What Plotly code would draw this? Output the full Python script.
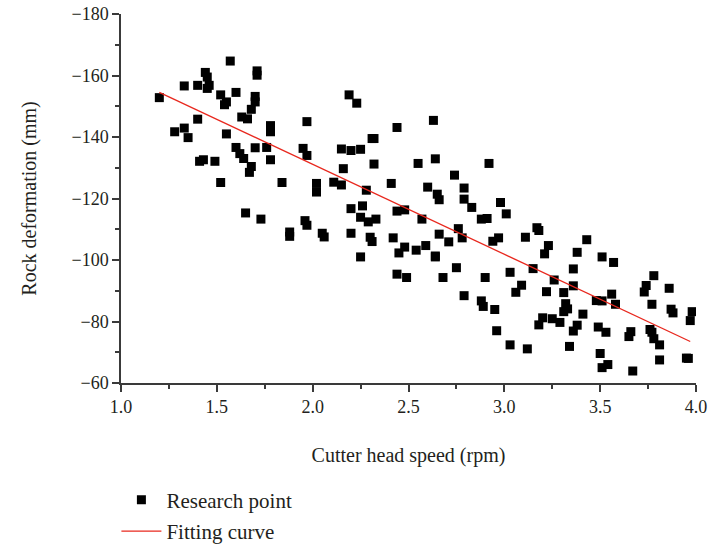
import plotly.graph_objects as go

# Cutter head speed (rpm) and measured rock deformation (mm)
speed = [
    1.20, 1.28, 1.33, 1.33, 1.35, 1.40, 1.40, 1.41, 1.43, 1.44, 1.45, 1.45, 1.46, 1.49,
    1.52, 1.52, 1.54, 1.55, 1.55, 1.57, 1.60, 1.60, 1.62, 1.63, 1.64, 1.65, 1.66, 1.67,
    1.68, 1.68, 1.70, 1.70, 1.70, 1.71, 1.71, 1.73, 1.76, 1.78, 1.78, 1.78, 1.84, 1.88,
    1.88, 1.95, 1.96, 1.97, 1.97, 1.97, 2.02, 2.02, 2.05, 2.06, 2.11, 2.15, 2.15, 2.16,
    2.19, 2.20, 2.20, 2.20, 2.23, 2.25, 2.25, 2.25, 2.26, 2.28, 2.29, 2.30, 2.31, 2.31,
    2.32, 2.32, 2.33, 2.41, 2.42, 2.44, 2.44, 2.44, 2.45, 2.48, 2.48, 2.49, 2.54, 2.55,
    2.57, 2.59, 2.60, 2.63, 2.64, 2.64, 2.64, 2.65, 2.66, 2.66, 2.68, 2.71, 2.74, 2.75,
    2.76, 2.78, 2.79, 2.79, 2.79, 2.83, 2.88, 2.88, 2.89, 2.90, 2.91, 2.92, 2.94, 2.95,
    2.96, 2.97, 2.98, 3.01, 3.03, 3.03, 3.06, 3.09, 3.11, 3.12, 3.15, 3.17, 3.18, 3.18,
    3.20, 3.21, 3.22, 3.23, 3.25, 3.26, 3.29, 3.31, 3.31, 3.32, 3.33, 3.34, 3.36, 3.36,
    3.36, 3.38, 3.38, 3.41, 3.43, 3.48, 3.49, 3.50, 3.51, 3.51, 3.51, 3.53, 3.54, 3.56,
    3.57, 3.58, 3.65, 3.66, 3.67, 3.73, 3.74, 3.76, 3.77, 3.77, 3.78, 3.78, 3.81, 3.81,
    3.86, 3.87, 3.88, 3.95, 3.96, 3.97, 3.98,
]
deformation = [
    -152.8, -141.7, -156.6, -142.9, -139.8, -156.8, -145.8, -132.1, -132.6, -161.0, -159.5, -155.8, -156.8, -132.1,
    -153.7, -125.2, -150.5, -151.4, -141.0, -164.7, -154.5, -136.6, -134.6, -146.5, -133.0, -115.3, -145.9, -128.5,
    -130.4, -149.0, -136.5, -153.2, -151.4, -161.5, -160.1, -113.3, -136.6, -143.7, -141.7, -132.6, -125.2, -109.1,
    -107.7, -136.3, -112.8, -111.3, -134.0, -145.0, -124.9, -122.1, -108.7, -107.5, -125.3, -124.4, -136.1, -129.7,
    -153.7, -108.7, -116.7, -135.6, -151.0, -136.0, -101.0, -113.9, -117.6, -122.7, -112.4, -107.4, -106.0, -139.5,
    -139.5, -131.2, -113.3, -124.9, -107.2, -143.1, -95.4, -115.9, -102.3, -104.2, -116.3, -94.3, -103.2, -131.4,
    -113.3, -104.7, -123.7, -145.4, -101.3, -101.0, -132.9, -121.4, -108.4, -119.6, -94.3, -105.9, -127.6, -97.5,
    -110.2, -107.2, -123.4, -119.8, -88.4, -117.1, -113.3, -86.7, -84.9, -94.3, -113.5, -131.4, -106.1, -83.9,
    -77.0, -107.2, -118.7, -115.0, -96.0, -72.4, -89.5, -91.8, -107.4, -71.1, -97.2, -110.5, -109.6, -78.9,
    -81.2, -102.0, -89.7, -104.7, -80.9, -93.5, -79.7, -89.4, -83.2, -85.8, -84.1, -71.9, -91.6, -97.1,
    -76.9, -102.5, -78.8, -82.4, -106.6, -86.8, -78.2, -69.6, -86.7, -101.0, -65.0, -76.5, -66.0, -88.9,
    -99.2, -85.6, -75.1, -76.7, -63.9, -89.6, -91.7, -77.4, -76.5, -85.6, -94.9, -74.4, -72.4, -67.5,
    -90.8, -84.0, -82.8, -68.1, -68.0, -80.3, -83.2,
]

# Linear fitting curve end points
fit_speed = [1.20, 3.97]
fit_deformation = [-154.5, -73.5]

x_ticks = [1.0, 1.5, 2.0, 2.5, 3.0, 3.5, 4.0]
y_ticks = [-180, -160, -140, -120, -100, -80, -60]

FONT = "Liberation Serif"
TEXT_COLOR = "#231f20"
AXIS_COLOR = "#3a3a3a"

fig = go.Figure()
fig.add_trace(go.Scatter(
    x=speed, y=deformation, mode="markers", name="Research point", legendgroup="pts",
    marker=dict(symbol="square", size=9, color="black", line=dict(width=0)),
))
fig.add_trace(go.Scatter(
    x=fit_speed, y=fit_deformation, mode="lines", name="Fitting curve", legendgroup="fit",
    line=dict(color="#e8281e", width=1.3),
))

axis_common = dict(
    showgrid=False, zeroline=False, showline=True, linecolor=AXIS_COLOR, linewidth=1.5,
    ticks="outside", ticklen=7, tickwidth=1.5, tickcolor=AXIS_COLOR,
    tickfont=dict(family=FONT, size=18, color=TEXT_COLOR),
    mirror=False,
)

fig.update_xaxes(
    range=[1.0, 4.0], tickvals=x_ticks, ticktext=[f"{v:.1f}" for v in x_ticks],
    minor=dict(ticks="outside", ticklen=4, tickwidth=1.5, tickcolor=AXIS_COLOR, dtick=0.25, tick0=1.0),
    title=dict(text="Cutter head speed (rpm)", font=dict(family=FONT, size=20, color=TEXT_COLOR), standoff=32),
    **axis_common,
)
fig.update_yaxes(
    range=[-60, -180], tickvals=y_ticks, ticktext=[f"\u2212{abs(v)}" for v in y_ticks],
    minor=dict(ticks="outside", ticklen=4, tickwidth=1.5, tickcolor=AXIS_COLOR, dtick=10, tick0=-180),
    title=dict(text="Rock deformation (mm)", font=dict(family=FONT, size=20, color=TEXT_COLOR), standoff=29),
    **axis_common,
)

fig.update_layout(
    width=709, height=548,
    margin=dict(l=121, r=13, t=14, b=165, autoexpand=False),
    plot_bgcolor="white", paper_bgcolor="white",
    showlegend=True,
    legend=dict(
        x=-0.008, xanchor="left", y=-0.262, yanchor="top",
        font=dict(family=FONT, size=21, color=TEXT_COLOR),
        bgcolor="rgba(0,0,0,0)", tracegroupgap=1, itemwidth=40,
    ),
)

fig.write_html("out.html")
